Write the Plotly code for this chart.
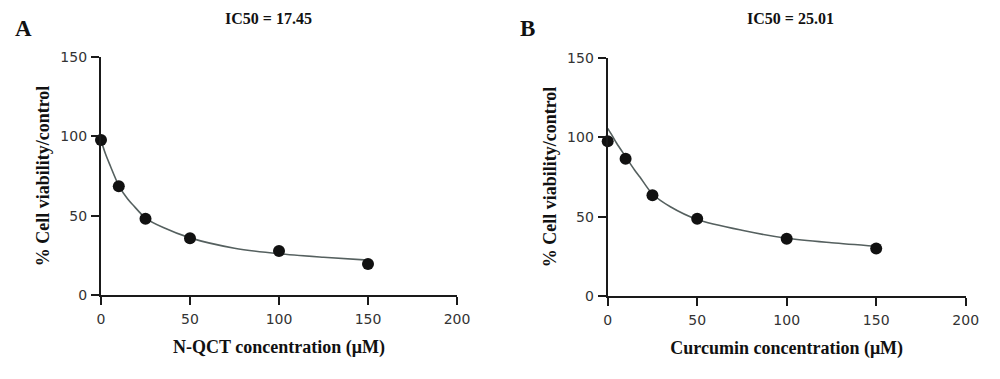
import plotly.graph_objects as go

# Measured points
conc = [0, 10, 25, 50, 100, 150]
viab_nqct = [97.7, 68.5, 48.0, 35.8, 27.7, 19.5]
viab_curc = [97.5, 86.5, 63.5, 48.8, 36.2, 30.0]

# Fitted curves
curve_x = [0, 2.5, 5, 10, 15, 18, 25, 35, 50, 75, 100, 125, 150]
curve_nqct = [97.5, 89.0, 82.0, 69.0, 60.5, 56.7, 48.5, 42.5, 36.0, 29.5, 26.0, 23.8, 22.0]
curve_curc = [105.6, 101.0, 96.2, 87.8, 79.4, 75.0, 64.3, 56.3, 48.3, 41.5, 36.5, 33.7, 31.5]

x_ticks = [0, 50, 100, 150, 200]
y_ticks = [0, 50, 100, 150]

W, H, OFF = 984, 363, 8  # page body has an 8px margin


def px(xp):
    return (xp - OFF) / W


def py(yp):
    return 1 - (yp - OFF) / H


panels = [
    dict(letter="A", ic50="IC50 = 17.45", xtitle="N-QCT concentration (μM)",
         pts=viab_nqct, curve=curve_nqct, xdom=[px(101), px(457)], ydom=[py(295), py(57)],
         title_x=268, letter_x=13),
    dict(letter="B", ic50="IC50 = 25.01", xtitle="Curcumin concentration (μM)",
         pts=viab_curc, curve=curve_curc, xdom=[px(607.7), px(965.7)], ydom=[py(296.3), py(57.7)],
         title_x=790, letter_x=518),
]

fig = go.Figure()
serif = "Liberation Serif"
sans = "DejaVu Sans"
annotations = []

for i, p in enumerate(panels):
    n = "" if i == 0 else str(i + 1)
    xa, ya = "x" + n, "y" + n
    fig.add_trace(go.Scatter(x=curve_x, y=p["curve"], mode="lines", line=dict(color="#55605f", width=1.6, shape="spline", smoothing=0.8),
                             xaxis=xa, yaxis=ya, showlegend=False, hoverinfo="skip", cliponaxis=False))
    fig.add_trace(go.Scatter(x=conc, y=p["pts"], mode="markers", marker=dict(color="#111111", size=12),
                             xaxis=xa, yaxis=ya, showlegend=False, cliponaxis=False))
    axis_common = dict(showline=True, linecolor="#1a1a1a", linewidth=2.2, ticks="outside", ticklen=8,
                       tickwidth=2.2, tickcolor="#1a1a1a", showgrid=False, zeroline=False, automargin=False,
                       tickfont=dict(family=sans, size=14, color="#333333"))
    fig.layout["xaxis" + n] = dict(domain=p["xdom"], range=[0, 200], tickvals=x_ticks, anchor=ya, ticklabelstandoff=2,
                                   title=dict(text="<b>" + p["xtitle"] + "</b>", font=dict(family=serif, size=18, color="#111111"), standoff=14),
                                   **axis_common)
    fig.layout["yaxis" + n] = dict(domain=p["ydom"], range=[0, 150], tickvals=y_ticks, anchor=xa, ticklabelstandoff=1,
                                   title=dict(text="<b>% Cell viability/control</b>", font=dict(family=serif, size=18, color="#111111"), standoff=6),
                                   **axis_common)
    annotations.append(dict(text="<b>" + p["ic50"] + "</b>", x=px(p["title_x"]), y=py(19),
                            xref="paper", yref="paper", showarrow=False, xanchor="center", yanchor="middle",
                            font=dict(family=serif, size=16, color="#111111")))
    annotations.append(dict(text="<b>" + p["letter"] + "</b>", x=px(p["letter_x"]), y=py(28),
                            xref="paper", yref="paper", showarrow=False, xanchor="left", yanchor="middle",
                            font=dict(family=serif, size=23, color="#111111")))

fig.update_layout(width=W, height=H, margin=dict(l=0, r=0, t=0, b=0),
                  plot_bgcolor="white", paper_bgcolor="white", annotations=annotations)

fig.write_html("out.html")
